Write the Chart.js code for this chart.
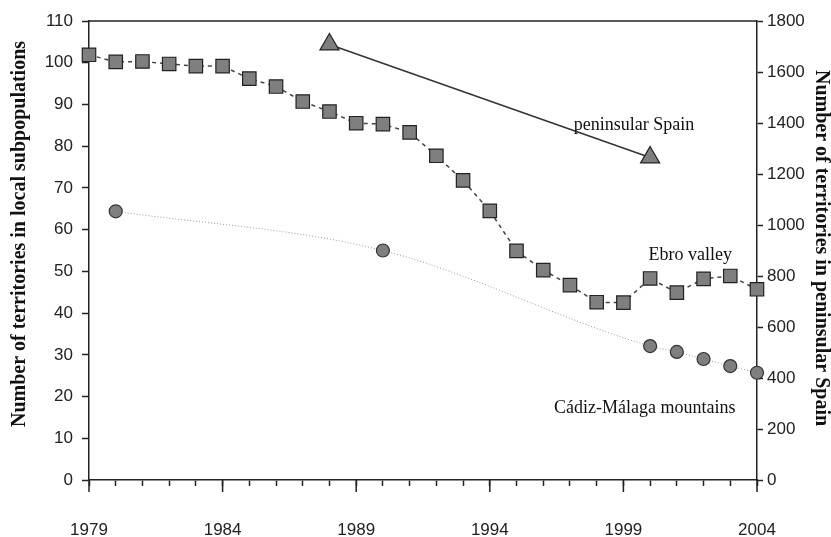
<!DOCTYPE html>
<html>
<head>
<meta charset="utf-8">
<script src="https://cdn.jsdelivr.net/npm/chart.js@4/dist/chart.umd.min.js"></script>
<style>
  html, body { margin: 0; padding: 0; background: #fff; }
  #wrap { width: 831px; height: 537px; }
</style>
</head>
<body>
<div id="wrap"><canvas id="chart" width="831" height="537"></canvas></div>
<script>
'use strict';

// Ebro valley, one value per year 1979..2004 (left axis)
const ebroYears = [1979, 1980, 1981, 1982, 1983, 1984, 1985, 1986, 1987, 1988, 1989, 1990, 1991,
  1992, 1993, 1994, 1995, 1996, 1997, 1998, 1999, 2000, 2001, 2002, 2003, 2004];
const ebroValues = [101.9, 100.2, 100.3, 99.7, 99.2, 99.2, 96.2, 94.3, 90.7, 88.3, 85.5, 85.3, 83.3,
  77.7, 71.8, 64.5, 54.9, 50.3, 46.7, 42.6, 42.5, 48.3, 44.9, 48.2, 48.9, 45.7];

// Cádiz-Málaga mountains (left axis)
const cadizYears = [1980, 1990, 2000, 2001, 2002, 2003, 2004];
const cadizValues = [64.4, 55.0, 32.1, 30.7, 29.0, 27.3, 25.7];

// peninsular Spain (right axis)
const spainYears = [1988, 2000];
const spainValues = [1708, 1265];

const leftTicks = [0, 110, 10];
const rightTicks = [0, 1800, 200];

const toPoints = (xs, ys) => xs.map((x, i) => ({ x: x, y: ys[i] }));

const serif = '"Liberation Serif", "DejaVu Serif", serif';
const sans = '"Liberation Sans", Arial, sans-serif';

const frame = {
  id: 'frame',
  afterDraw(chart) {
    const { ctx, chartArea, scales } = chart;
    ctx.save();
    ctx.strokeStyle = '#222';
    ctx.lineWidth = 1.5;
    ctx.beginPath();
    ctx.moveTo(chartArea.left, chartArea.top);
    ctx.lineTo(chartArea.right, chartArea.top);
    // longer ticks under the labelled years
    for (let yr = 1979; yr <= 2004; yr += 5) {
      const px = scales.x.getPixelForValue(yr);
      ctx.moveTo(px, chartArea.bottom);
      ctx.lineTo(px, chartArea.bottom + 12);
    }
    ctx.stroke();

    // axis titles
    ctx.fillStyle = '#111';
    ctx.font = 'bold 20px ' + serif;
    ctx.textAlign = 'center';
    ctx.textBaseline = 'middle';
    ctx.save();
    ctx.translate(20, 234);
    ctx.rotate(-Math.PI / 2);
    ctx.fillText('Number of territories in local subpopulations', 0, 0);
    ctx.restore();
    ctx.save();
    ctx.translate(821, 248);
    ctx.rotate(Math.PI / 2);
    ctx.fillText('Number of territories in peninsular Spain', 0, 0);
    ctx.restore();

    // series labels
    ctx.font = '18px ' + serif;
    const put = (text, x, y, axis) =>
      ctx.fillText(text, scales.x.getPixelForValue(x), scales[axis].getPixelForValue(y));
    put('peninsular Spain', 1999.4, 1392, 'y1');
    put('Ebro valley', 2001.5, 53.8, 'y');
    put('Cádiz-Málaga mountains', 1999.8, 17.3, 'y');
    ctx.restore();
  }
};

new Chart(document.getElementById('chart'), {
  type: 'line',
  data: {
    datasets: [
      {
        label: 'Ebro valley',
        data: toPoints(ebroYears, ebroValues),
        yAxisID: 'y',
        borderColor: '#444',
        borderWidth: 1.5,
        borderDash: [4, 4],
        pointStyle: 'rect',
        pointRadius: 9.5,
        pointBackgroundColor: '#7f7f7f',
        pointBorderColor: '#222',
        pointBorderWidth: 1.2,
        clip: false
      },
      {
        label: 'Cádiz-Málaga mountains',
        data: toPoints(cadizYears, cadizValues),
        yAxisID: 'y',
        borderColor: '#9a9a9a',
        borderWidth: 1,
        borderDash: [1, 2],
        tension: 0.4,
        cubicInterpolationMode: 'monotone',
        pointStyle: 'circle',
        pointRadius: 6.5,
        pointBackgroundColor: '#7f7f7f',
        pointBorderColor: '#333',
        pointBorderWidth: 1.2,
        clip: false
      },
      {
        label: 'peninsular Spain',
        data: toPoints(spainYears, spainValues),
        yAxisID: 'y1',
        borderColor: '#333',
        borderWidth: 1.5,
        pointStyle: 'triangle',
        pointRadius: 11,
        pointBackgroundColor: '#7f7f7f',
        pointBorderColor: '#222',
        pointBorderWidth: 1.2,
        clip: false
      }
    ]
  },
  options: {
    responsive: false,
    animation: false,
    layout: { padding: { top: 21, left: 0, right: 0, bottom: 0 } },
    plugins: { legend: { display: false }, tooltip: { enabled: false } },
    scales: {
      x: {
        type: 'linear',
        min: 1979,
        max: 2004,
        afterFit: s => { s.height = 57; },
        border: { color: '#222', width: 1.5 },
        grid: { drawOnChartArea: false, tickLength: 6, color: '#222', tickWidth: 1.5 },
        ticks: {
          stepSize: 1,
          autoSkip: false,
          maxRotation: 0,
          padding: 34,
          color: '#222',
          font: { family: sans, size: 17 },
          callback: v => ((v - 1979) % 5 === 0 ? String(v) : '')
        }
      },
      y: {
        position: 'left',
        min: leftTicks[0],
        max: leftTicks[1],
        afterFit: s => { s.width = 89; },
        border: { color: '#222', width: 1.5 },
        grid: { drawOnChartArea: false, tickLength: 7, color: '#222', tickWidth: 1.5 },
        ticks: {
          stepSize: leftTicks[2],
          padding: 9,
          color: '#222',
          font: { family: sans, size: 17 },
          callback: v => String(v)
        }
      },
      y1: {
        position: 'right',
        min: rightTicks[0],
        max: rightTicks[1],
        afterFit: s => { s.width = 74; },
        border: { color: '#222', width: 1.5 },
        grid: { drawOnChartArea: false, tickLength: 6, color: '#222', tickWidth: 1.5 },
        ticks: {
          stepSize: rightTicks[2],
          padding: 4,
          color: '#222',
          font: { family: sans, size: 17 },
          callback: v => String(v)
        }
      }
    }
  },
  plugins: [frame]
});
</script>
</body>
</html>
